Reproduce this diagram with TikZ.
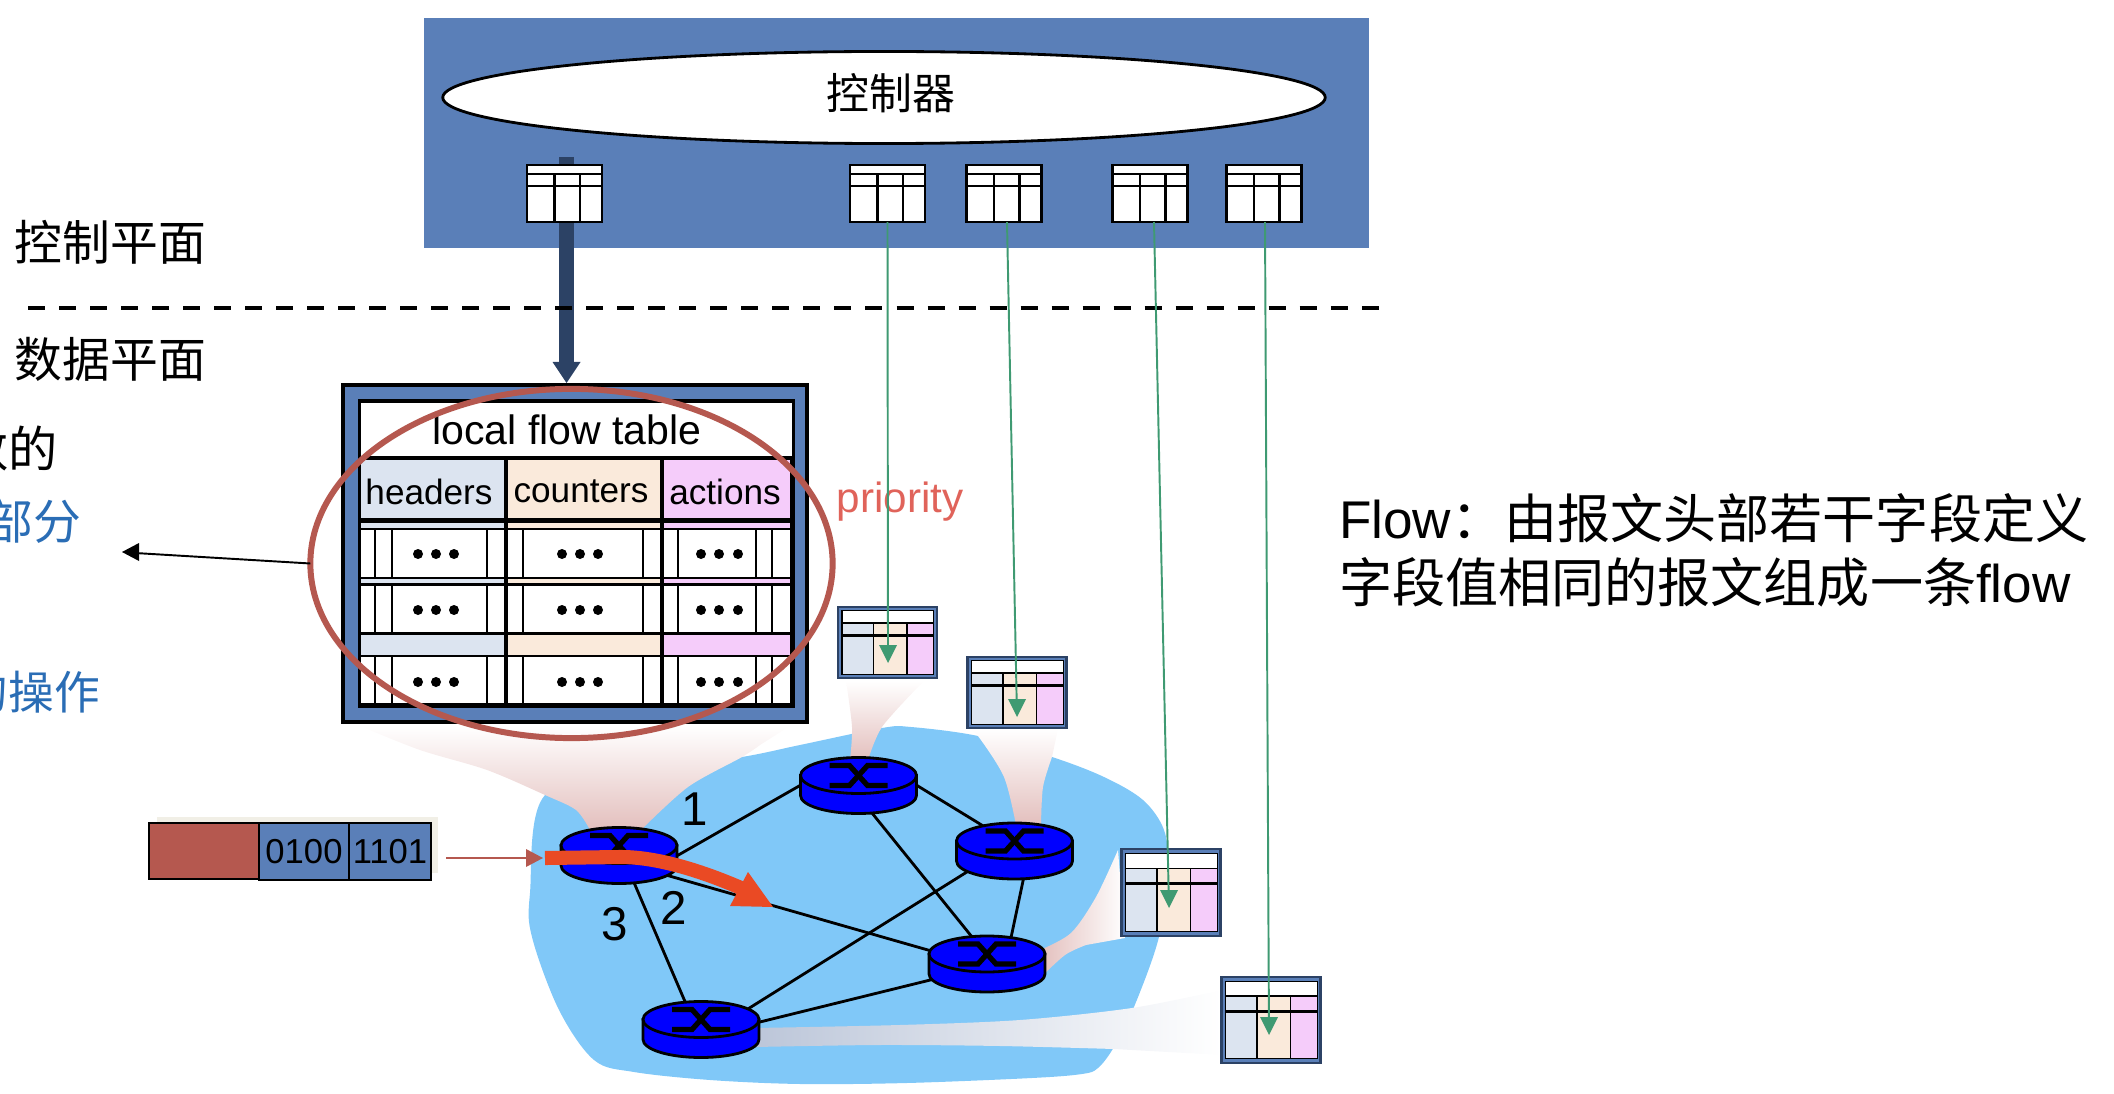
\documentclass[tikz,border=0pt]{standalone}
\usepackage{fontspec}
\setmainfont{Liberation Sans}
\newfontfamily\cjk{Noto Sans CJK SC}
\usetikzlibrary{shapes.geometric}
\definecolor{ctrlblue}{HTML}{5A7FB8}
\definecolor{navy}{HTML}{2C4265}
\definecolor{cloudblue}{HTML}{80C8F8}
\definecolor{hdrblue}{HTML}{DCE4F0}
\definecolor{hdrtan}{HTML}{FAEADB}
\definecolor{hdrpink}{HTML}{F5CCFA}
\definecolor{brick}{HTML}{B5584F}
\definecolor{beampink}{HTML}{E3BFBD}
\definecolor{beammid}{HTML}{F6ECEB}
\definecolor{beamgrey}{HTML}{BCC6D9}
\definecolor{flowgreen}{HTML}{3F9A72}
\definecolor{flowred}{HTML}{EA4A24}
\definecolor{prioired}{HTML}{E0635A}
\definecolor{noteblue}{HTML}{2A6DB5}
\definecolor{paleback}{HTML}{F1EFE6}
\begin{document}
\begin{tikzpicture}[x=0.01cm,y=0.01cm]
\tikzstyle{every node}+=[inner sep=0pt,outer sep=0pt]
\tikzstyle{ctbl}=[draw=black,fill=white,line width=0.7pt,minimum width=0.75cm,minimum height=0.57cm]
\tikzstyle{mtbl}=[draw=navy,fill=ctrlblue,line width=0.7pt,minimum width=0.99cm]
\tikzstyle{rtr}=[ellipse,minimum width=1.17cm,minimum height=0.56cm]
\tikzstyle{link}=[black,line width=0.8pt]
\tikzstyle{greenline}=[flowgreen,line width=0.55pt,shorten >=0.1cm]
\tikzstyle{bigtext}=[font=\fontsize{13.6}{16}\selectfont\cjk]
\tikzstyle{rowtext}=[font=\fontsize{10}{12}\selectfont]
\tikzstyle{numtext}=[font=\fontsize{13.5}{16}\selectfont]
\tikzstyle{sidetext}=[font=\fontsize{15.1}{18}\selectfont,anchor=west]
\clip (0,0) rectangle (2114,-1094);
\fill [cloudblue] plot [smooth cycle,tension=0.55] coordinates {(742,-757) (800,-745) (882,-728) (911,-727) (978,-736) (1052,-757) (1104,-777) (1143,-800) (1164,-830) (1168,-870) (1159,-937) (1134,-1007) (1114,-1047) (1098,-1068) (1082,-1074) (1032,-1078) (907,-1083) (800,-1084) (710,-1080) (634,-1072) (594,-1060) (559,-1010) (532,-937) (530,-893) (545,-795) (640,-772)};
\shade [top color=white,middle color=beammid,bottom color=beampink] plot [smooth] coordinates {(590,-830) (576,-810) (545,-795) (487,-770) (420,-750) (360,-726)} -- (790,-726) -- plot [smooth] coordinates {(760,-745) (742,-757) (688,-787) (641,-830)} -- cycle;
\shade [top color=white,middle color=beammid,bottom color=beampink] plot [smooth] coordinates {(850,-760) (852,-727) (846,-681)} -- (925,-681) -- plot [smooth] coordinates {(918,-687) (882,-727) (868,-760)} -- cycle;
\shade [top color=white,middle color=beammid,bottom color=beampink] plot [smooth] coordinates {(1016,-825) (1004,-777) (978,-736) (968,-729)} -- (1058,-729) -- plot [smooth] coordinates {(1052,-757) (1043,-787) (1041,-825)} -- cycle;
\shade [left color=beampink,middle color=beammid,right color=white] plot [smooth] coordinates {(1040,-950) (1071,-933) (1096,-897) (1118,-850)} -- (1125,-938) -- plot [smooth] coordinates {(1086,-945) (1065,-955) (1040,-978)} -- cycle;
\shade [left color=beamgrey,right color=white] plot [smooth] coordinates {(755,-1028) (900,-1025) (1020,-1020) (1132,-1008) (1222,-990)} -- (1222,-1055) -- plot [smooth] coordinates {(1114,-1049) (1000,-1046) (880,-1045) (755,-1047)} -- cycle;
\node [rtr] (r0) at (619,-855.5) {};
\node [rtr] (rA) at (858.5,-785.5) {};
\node [rtr] (rB) at (1014.5,-851) {};
\node [rtr] (rC) at (987,-964) {};
\node [rtr] (rE) at (701,-1029.5) {};
\draw [link] (r0.east) -- (rA.west);
\draw [link] (r0.-23) -- (rC.167);
\draw [link] (r0.-61) -- (rE.120);
\draw [link] (rA.east) -- (rB.141);
\draw [link] (rA.-64) -- (rC.119);
\draw [link] (rB.-72) -- (rC.47);
\draw [link] (rB.203) -- (rE.23);
\draw [link] (rC.196) -- (rE.7);
\foreach \n in {r0,rA,rB,rC,rE} {
\begin{scope}[shift={(\n.center)}]
\draw [black,fill=blue,line width=0.8pt] (-58,10) -- (-58,-10) arc (180:360:58 and 18) -- (58,10) -- cycle;
\draw [black,fill=blue,line width=0.8pt] (0,10) ellipse (58 and 18);
\draw [black,line width=1.5pt] (-29,0) -- (-9,0) -- (9,20) -- (29,20);
\draw [black,line width=1.5pt] (-29,20) -- (-9,20) -- (9,0) -- (29,0);
\end{scope}
}
\fill [paleback] (157,-817) rectangle (438,-873);
\node [draw=black,fill=brick,line width=0.6pt,minimum width=1.10cm,minimum height=0.56cm] (pkt0) at (204,-851) {};
\node [draw=black,fill=ctrlblue,line width=0.6pt,minimum width=0.90cm,minimum height=0.57cm,font=\fontsize{9.85}{12}\selectfont] (pkt1) at (304,-851.5) {0100};
\node [draw=black,fill=ctrlblue,line width=0.6pt,minimum width=0.82cm,minimum height=0.57cm,font=\fontsize{9.85}{12}\selectfont] (pkt2) at (390,-851.5) {1101};
\coordinate (pktfrom) at (446,-858);
\coordinate (flowstart) at (527,-858);
\draw [brick,line width=0.5pt] (pktfrom) -- (flowstart);
\fill [brick] (543,-858) -- (526,-849) -- (526,-867) -- cycle;
\node [draw=black,fill=ctrlblue,line width=1.14pt,minimum width=4.64cm,minimum height=3.37cm] (ftbl) at (575,-553.5) {};
\fill [black] (358,-399) rectangle (795,-708);
\fill [white] (361,-403) rectangle (792,-456);
\foreach \ya/\yb in {460/518,523/528,579/583,635/655} {
\foreach \xa/\xb/\c in {361/504/hdrblue,508/660/hdrtan,664/790/hdrpink} {
\fill [\c] (\xa,-\ya) rectangle (\xb,-\yb);
}
}
\foreach \ya/\yb/\yd in {530/577/554,586/632/610,657/703/682} {
\foreach \xa/\xb in {361/504,508/660,664/790} {
\fill [white] (\xa,-\ya) rectangle (\xb,-\yb);
}
\foreach \xv in {375,392,487,523,643,678,756,772} {
\draw [black,line width=0.6pt] (\xv,-\ya) -- (\xv,-\yb);
}
\foreach \xd in {418,436,454,562,580,598,701,719,738} {
\fill [black] (\xd,-\yd) circle (5);
}
}
\node [font=\fontsize{11.67}{14}\selectfont] (ftitle) at (567,-430) {local flow table};
\node [rowtext] (hdr1) at (429,-491.5) {headers};
\node [rowtext] (hdr2) at (581,-491.5) {counters};
\node [rowtext] (hdr3) at (725,-491.5) {actions};
\node [ellipse,draw=brick,line width=1.7pt,minimum width=5.22cm,minimum height=3.49cm] (rsel) at (571.5,-563.5) {};
\coordinate (notefrom) at (135,-553);
\draw [black,line width=0.55pt] (rsel.west) -- (notefrom);
\fill [black] (122,-552) -- (139,-543) -- (139,-561) -- cycle;
\node [font=\fontsize{12}{14}\selectfont,text=prioired] (prio) at (900,-502) {priority};
\node [draw=none,fill=ctrlblue,minimum width=9.45cm,minimum height=2.29cm] (ctrlbox) at (896.5,-133) {};
\coordinate (ctrltop) at (566.5,-157);
\draw [navy,line width=4pt] (ctrltop) -- (566.5,-365);
\fill [navy] (566.5,-383) -- (552.5,-362) -- (580.5,-362) -- cycle;
\node [ellipse,draw=black,fill=white,line width=0.8pt,minimum width=8.82cm,minimum height=0.92cm] (ctrl) at (884,-97.5) {};
\node [font=\fontsize{12.2}{14}\selectfont\cjk] (ctrltext) at (891,-93) {控制器};
\node [ctbl] (t1) at (564.5,-193.5) {};
\node [ctbl] (t2) at (887.5,-193.5) {};
\node [ctbl] (t3) at (1004,-193.5) {};
\node [ctbl] (t4) at (1150,-193.5) {};
\node [ctbl] (t5) at (1264,-193.5) {};
\foreach \n in {t1,t2,t3,t4,t5} {
\begin{scope}[shift={(\n.center)}]
\draw [black,line width=0.6pt] (-37.5,19.5) -- (37.5,19.5);
\draw [black,line width=0.6pt] (-37.5,7.5) -- (37.5,7.5);
\draw [black,line width=0.6pt] (-10,19.5) -- (-10,-28.5);
\draw [black,line width=0.6pt] (15.5,19.5) -- (15.5,-28.5);
\end{scope}
}
\draw [black,line width=1.1pt,dash pattern=on 0.17cm off 0.14cm] (28,-308) -- (1389,-308);
\node [mtbl,minimum height=0.71cm] (m1) at (887.5,-642.5) {};
\node [mtbl,minimum height=0.71cm] (m2) at (1017,-692.5) {};
\node [mtbl,minimum height=0.87cm] (m3) at (1171,-892.5) {};
\node [mtbl,minimum height=0.86cm] (m4) at (1271,-1020) {};
\foreach \n/\hs in {m1/1,m2/1,m3/1.219,m4/1.205} {
\begin{scope}[shift={(\n.center)},yscale=\hs]
\fill [black] (-46.5,32.5) rectangle (46.5,-32.5);
\fill [white] (-45,31.5) rectangle (45.5,20.5);
\fill [hdrblue] (-45,19) rectangle (-15,8.5);
\fill [hdrtan] (-13.5,19) rectangle (18.5,8.5);
\fill [hdrpink] (20.2,19) rectangle (45.5,8.5);
\fill [hdrblue] (-45,6) rectangle (-15,-31.5);
\fill [hdrtan] (-13.5,6) rectangle (18.5,-31.5);
\fill [hdrpink] (20.2,6) rectangle (45.5,-31.5);
\end{scope}
}
\coordinate (m1tip) at (888,-663);
\coordinate (m2tip) at (1017,-717);
\coordinate (m3tip) at (1169,-908);
\coordinate (m4tip) at (1269,-1035);
\draw [greenline] (t2.south) -- (m1tip);
\draw [greenline] ([xshift=0.03cm]t3.south) -- (m2tip);
\draw [greenline] ([xshift=0.04cm]t4.south) -- (m3tip);
\draw [greenline] ([xshift=0.01cm]t5.south) -- (m4tip);
\foreach \n in {m1tip,m2tip,m3tip,m4tip} {
\fill [flowgreen] (\n) -- ++(-9,18) -- ++(18,0) -- cycle;
}
\coordinate (flowfrom) at (545,-858);
\draw [flowred,line width=4pt] (flowfrom) -- (621,-857) .. controls (650,-857) and (690,-866) .. (741,-888);
\fill [flowred] (773,-907) -- (748,-872) -- (730,-906) -- cycle;
\node [numtext] (port1) at (695,-809) {1};
\node [numtext] (port2) at (674,-908) {2};
\node [numtext] (port3) at (615,-924) {3};
\node [bigtext] (cplane) at (110.5,-242) {控制平面};
\node [bigtext] (dplane) at (110.5,-359) {数据平面};
\node [font=\fontsize{14}{16}\selectfont\cjk,anchor=east] (note0) at (58,-449) {数的};
\node [bigtext,anchor=east,text=noteblue] (note1) at (81,-521) {部分};
\node [font=\fontsize{13}{16}\selectfont\cjk,anchor=east,text=noteblue] (note2) at (100,-692) {的操作};
\node [sidetext] (flow1) at (1339,-518) {Flow{\cjk ：由报文头部若干字段定义}};
\node [sidetext] (flow2) at (1339,-582) {{\cjk 字段值相同的报文组成一条}flow};
\end{tikzpicture}
\end{document}
